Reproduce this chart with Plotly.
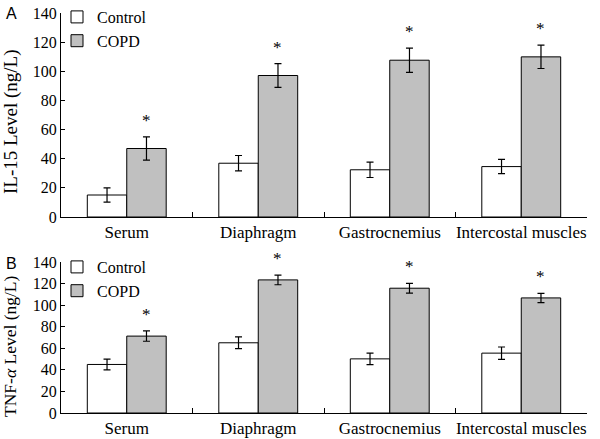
import plotly.graph_objects as go

categories = ["Serum", "Diaphragm", "Gastrocnemius", "Intercostal muscles"]

il15_control = [15.1, 36.9, 32.4, 34.6]
il15_control_err = [4.9, 5.3, 5.3, 4.9]
il15_copd = [47.0, 97.1, 107.6, 109.9]
il15_copd_err = [8.0, 8.1, 8.3, 8.0]

tnf_control = [45.0, 65.1, 50.2, 55.5]
tnf_control_err = [5.0, 5.4, 5.3, 5.7]
tnf_copd = [71.3, 123.4, 115.7, 106.7]
tnf_copd_err = [4.8, 4.5, 4.5, 4.3]

y_ticks = [0, 20, 40, 60, 80, 100, 120, 140]

W, H = 600, 439
ML, MR, MT, MB = 61, 13, 13, 26
PW, PH = W - ML - MR, H - MT - MB

def px_x(p):
    return (p - ML) / PW

def px_y(p):
    return 1 - (p - MT) / PH

SERIF = "Liberation Serif"
SANS = "Liberation Sans"
GRAY = "#c0c0c0"

fig = go.Figure()

def add_pair(ctrl, ctrl_err, copd, copd_err, xa, ya, legend):
    fig.add_trace(go.Bar(
        x=categories, y=ctrl, name="Control", xaxis=xa, yaxis=ya, legend=legend,
        marker=dict(color="white", line=dict(color="black", width=1)),
        error_y=dict(type="data", array=ctrl_err, color="black", thickness=1.2, width=3.5),
    ))
    fig.add_trace(go.Bar(
        x=categories, y=copd, name="COPD", xaxis=xa, yaxis=ya, legend=legend,
        marker=dict(color=GRAY, line=dict(color="black", width=1)),
        error_y=dict(type="data", array=copd_err, color="black", thickness=1.2, width=3.5),
    ))

add_pair(il15_control, il15_control_err, il15_copd, il15_copd_err, "x", "y", "legend")
add_pair(tnf_control, tnf_control_err, tnf_copd, tnf_copd_err, "x2", "y2", "legend2")

axis_common = dict(showline=True, linecolor="black", linewidth=1, showgrid=False,
                   zeroline=False, ticks="inside", tickcolor="black", tickangle=0,
                   automargin=False,
                   tickfont=dict(family=SERIF, size=17, color="black"))

yaxis_common = dict(showline=True, linecolor="black", linewidth=1, showgrid=False,
                    zeroline=False, ticks="inside", ticklen=4, tickcolor="black",
                    range=[0, 140], tickvals=y_ticks, automargin=False,
                    tickfont=dict(family=SERIF, size=16, color="black"))

top_dom = [px_y(217), px_y(13)]
bot_dom = [px_y(413), px_y(262)]

legend_font = dict(family=SERIF, size=16, color="black")

fig.update_layout(
    width=W, height=H,
    margin=dict(l=ML, r=MR, t=MT, b=MB, autoexpand=False),
    paper_bgcolor="white", plot_bgcolor="white",
    barmode="group", bargap=0.4, bargroupgap=0,
    xaxis=dict(domain=[0, 1], anchor="y", tickson="boundaries", ticklen=5, **axis_common),
    yaxis=dict(domain=top_dom, anchor="x", **yaxis_common),
    xaxis2=dict(domain=[0, 1], anchor="y2", tickson="boundaries", ticklen=5, **axis_common),
    yaxis2=dict(domain=bot_dom, anchor="x2", **yaxis_common),
    legend=dict(x=px_x(57), y=px_y(0), xanchor="left", yanchor="top",
                font=legend_font, bgcolor="rgba(0,0,0,0)", itemwidth=30, tracegroupgap=0),
    legend2=dict(x=px_x(57), y=px_y(250), xanchor="left", yanchor="top",
                 font=legend_font, bgcolor="rgba(0,0,0,0)", itemwidth=30, tracegroupgap=0),
    showlegend=True,
)

annotations = []
bar_offset_px = 0.15 * PW / len(categories)
for cat, v, e in zip(categories, il15_copd, il15_copd_err):
    annotations.append(dict(x=cat, y=v + e, xref="x", yref="y", text="*", showarrow=False,
                            xshift=bar_offset_px, yshift=5, yanchor="bottom",
                            font=dict(family=SERIF, size=17, color="black")))
for cat, v, e in zip(categories, tnf_copd, tnf_copd_err):
    annotations.append(dict(x=cat, y=v + e, xref="x2", yref="y2", text="*", showarrow=False,
                            xshift=bar_offset_px, yshift=5, yanchor="bottom",
                            font=dict(family=SERIF, size=17, color="black")))
# axis titles
annotations.append(dict(x=px_x(11), y=px_y(122), xref="paper", yref="paper",
                        text="IL-15 Level (ng/L)", textangle=-90, showarrow=False,
                        xanchor="center", yanchor="middle",
                        font=dict(family=SERIF, size=19, color="black")))
annotations.append(dict(x=px_x(10), y=px_y(346), xref="paper", yref="paper",
                        text="TNF-<i>α</i> Level (ng/L)", textangle=-90, showarrow=False,
                        xanchor="center", yanchor="middle",
                        font=dict(family=SERIF, size=17.5, color="black")))
# panel letters
annotations.append(dict(x=px_x(4), y=px_y(13), xref="paper", yref="paper", text="A",
                        showarrow=False, xanchor="left", yanchor="middle",
                        font=dict(family=SANS, size=16, color="black")))
annotations.append(dict(x=px_x(4), y=px_y(263), xref="paper", yref="paper", text="B",
                        showarrow=False, xanchor="left", yanchor="middle",
                        font=dict(family=SANS, size=16, color="black")))
fig.update_layout(annotations=annotations)

fig.write_html("out.html", config={"displayModeBar": False},
               post_script="document.body.style.margin='0';")
